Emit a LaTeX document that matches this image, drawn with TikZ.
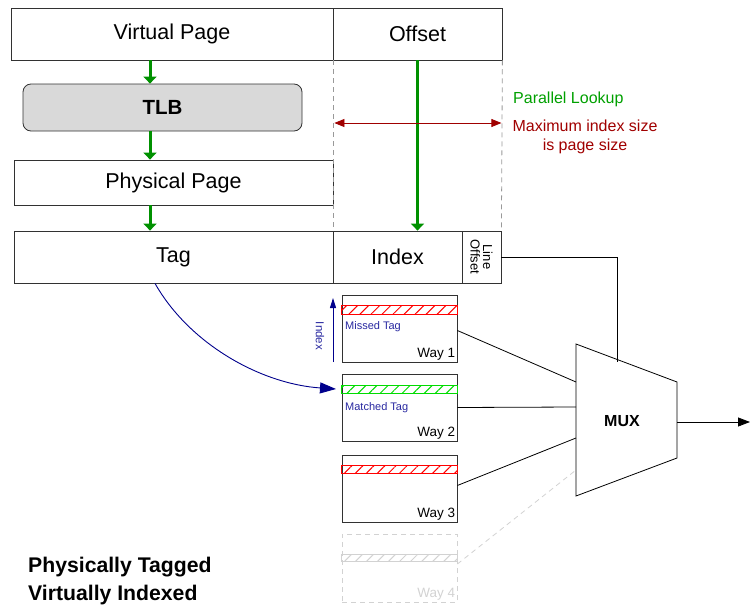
\documentclass[tikz,border=0pt]{standalone}
\usepackage{fontspec}
\setmainfont{Liberation Sans}
\usetikzlibrary{arrows.meta,patterns.meta,calc}
\definecolor{gA}{RGB}{0,145,0}
\definecolor{gT}{RGB}{0,160,0}
\definecolor{rD}{RGB}{160,0,0}
\definecolor{bN}{RGB}{0,0,140}
\definecolor{bT}{RGB}{40,40,160}
\definecolor{ln}{RGB}{50,50,50}
\definecolor{lg}{RGB}{210,210,210}
\definecolor{hg}{RGB}{0,220,0}
\tikzset{
  box/.style={draw=ln, line width=0.8pt, inner sep=0pt, font=\fontsize{21.5}{24}\selectfont},
  garrow/.style={draw=gA, line width=3pt, -{Triangle[width=13pt,length=7pt]}},
  wayb/.style={draw=ln, line width=0.8pt, minimum width=115pt, minimum height=67pt, inner sep=0pt},
  hatchr/.style={draw=red, line width=0.9pt, pattern={Lines[angle=45,distance=7.8pt,line width=1pt]}, pattern color=red},
  hatchg/.style={draw=hg, line width=0.9pt, pattern={Lines[angle=45,distance=7.8pt,line width=1pt]}, pattern color=hg},
  hatchl/.style={draw=lg, line width=0.9pt, pattern={Lines[angle=45,distance=7.8pt,line width=1pt]}, pattern color=lg},
  waylbl/.style={font=\fontsize{13.5}{15}\selectfont, anchor=south east, inner sep=2pt},
  taglbl/.style={font=\fontsize{11}{12}\selectfont, text=bT, anchor=west, inner sep=0pt},
  wire/.style={draw=black, line width=0.8pt},
}
\begin{document}
\begin{tikzpicture}[x=1pt,y=-1pt]
\useasboundingbox (0,0) rectangle (750,608);
% top address boxes
\node[box, minimum width=322pt, minimum height=52pt] (vp) at (172,34) {Virtual Page};
\node[box, minimum width=169pt, minimum height=52pt] (off) at (417.5,34) {Offset};
\node[box, fill=black!15, rounded corners=8pt, minimum width=279pt, minimum height=47pt, font=\fontsize{20.5}{22}\selectfont\bfseries] (tlb) at (162.5,107.5) {TLB};
\node[box, minimum width=319pt, minimum height=45pt] (pp) at (173.5,182.5) {Physical Page};
\node[box, minimum width=319pt, minimum height=52pt] (tag) at (173.5,257) {Tag};
\node[box, minimum width=129pt, minimum height=52pt] (idx) at (397.5,257) {Index};
\node[box, minimum width=39pt, minimum height=52pt] (lo) at (481.5,257) {};
\node[rotate=-90, align=center, font=\fontsize{13}{12.5}\selectfont, inner sep=0pt] (lot) at (lo.center) {Line\\Offset};
% green arrows
\coordinate (gx) at (150,0);
\draw[garrow] (vp.south -| gx) -- (tlb.north -| gx);
\draw[garrow] (tlb.south -| gx) -- (pp.north -| gx);
\draw[garrow] (pp.south -| gx) -- (tag.north -| gx);
\draw[garrow] (off.south) -- (off.south |- idx.north);
% dashed guides
\draw[draw=black!40, line width=0.8pt, dash pattern=on 5pt off 4pt] (vp.south east) -- (tag.north east);
\draw[draw=black!40, line width=0.8pt, dash pattern=on 5pt off 4pt] (off.south east) -- (lo.north east);
% red double arrow
\coordinate (ry) at (0,123);
\draw[draw=rD, line width=0.8pt, {Triangle[width=8pt,length=10pt]}-{Triangle[width=8pt,length=10pt]}] ($(vp.east |- ry)+(1,0)$) -- ($(off.east |- ry)+(-1,0)$);
\node[text=gT, font=\fontsize{16}{18}\selectfont, anchor=west, inner sep=0pt] (pl) at (513,99) {Parallel Lookup};
\node[text=rD, font=\fontsize{16}{19}\selectfont, align=center, inner sep=0pt] (mx) at (585,137) {Maximum index size\\is page size};
% ways
\node[wayb] (w1) at (399.5,328.5) {};
\node[wayb] (w2) at (399.5,407.5) {};
\node[wayb] (w3) at (399.5,488.5) {};
\node[wayb, draw=lg, dash pattern=on 5pt off 4pt, minimum height=68pt] (w4) at (399.5,568) {};
\path[hatchr] ($(w1.north west)+(0,11)$) rectangle ($(w1.north east)+(0,20)$);
\path[hatchg] ($(w2.north west)+(0,12)$) rectangle ($(w2.north east)+(0,20)$);
\path[hatchr] ($(w3.north west)+(0,11)$) rectangle ($(w3.north east)+(0,19)$);
\path[hatchl] ($(w4.north west)+(0,21)$) rectangle ($(w4.north east)+(0,28)$);
\node[waylbl] (w1l) at (w1.south east) {Way 1};
\node[waylbl] (w2l) at (w2.south east) {Way 2};
\node[waylbl] (w3l) at (w3.south east) {Way 3};
\node[waylbl, text=lg] (w4l) at (w4.south east) {Way 4};
\node[taglbl] (mt) at (345,327) {Missed Tag};
\node[taglbl] (ma) at (345,408) {Matched Tag};
% index arrow
\coordinate (ia) at (333,362);
\coordinate (ib) at (333,298);
\draw[draw=bN, line width=0.9pt, -{Triangle[width=6pt,length=10pt]}] (ia) -- (ib);
\node[rotate=-90, text=bT, font=\fontsize{11.5}{12}\selectfont, inner sep=0pt] (il) at (320,336) {Index};
% blue curve
\coordinate (cs) at (155,283);
\coordinate (ce) at (336,389);
\draw[draw=bN, line width=0.9pt, -{Triangle[width=11pt,length=16pt]}] (tag.south -| cs) .. controls (190,345) and (262,384) .. (ce);
% MUX
\coordinate (m1) at (576,344);
\coordinate (m2) at (677,382);
\coordinate (m3) at (677,458);
\coordinate (m4) at (576,496);
\draw[wire] (m1) -- (m2) -- (m3) -- (m4) -- cycle;
\node[font=\fontsize{16}{18}\selectfont\bfseries] (mux) at (622,421) {MUX};
% wires to mux
\coordinate (i1) at (576,382);
\coordinate (i2) at (576,407);
\coordinate (i3) at (576,438);
\coordinate (i4) at (576,470);
\draw[wire] ($(w1.east)+(0,2)$) -- (i1);
\draw[wire] (w2.east) -- (i2);
\draw[wire] ($(w3.east)+(0,-3)$) -- (i3);
\draw[draw=lg, line width=0.8pt, dash pattern=on 5pt off 4pt] ($(w4.east)+(0,-4)$) -- (i4);
% line offset wire
\coordinate (lt) at (617,362);
\draw[wire] (lo.east) -- (lo.east -| lt) -- (lt);
% output
\coordinate (oe) at (677,422);
\coordinate (oo) at (750,422);
\draw[wire, -{Triangle[width=9pt,length=12pt]}] (oe) -- (oo);
% caption
\node[anchor=west, align=left, font=\fontsize{21.2}{28}\selectfont\bfseries, inner sep=0pt] (cap) at (28,581) {Physically Tagged\\Virtually Indexed};
\end{tikzpicture}
\end{document}
